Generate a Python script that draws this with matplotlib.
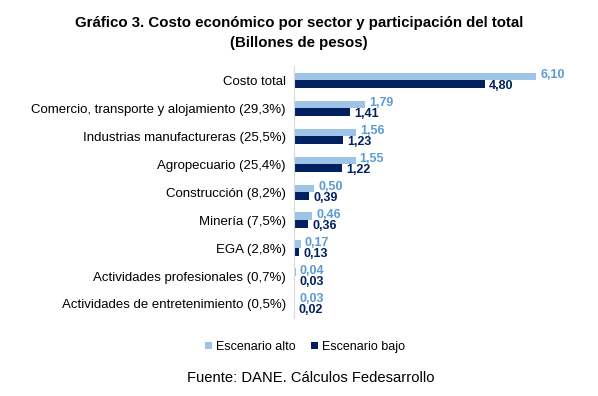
import numpy as np
from matplotlib import pyplot as plt

plt.rcParams["font.family"] = ["Liberation Sans", "DejaVu Sans"]

sectores = [
    "Costo total",
    "Comercio, transporte y alojamiento (29,3%)",
    "Industrias manufactureras (25,5%)",
    "Agropecuario (25,4%)",
    "Construcción (8,2%)",
    "Minería (7,5%)",
    "EGA (2,8%)",
    "Actividades profesionales (0,7%)",
    "Actividades de entretenimiento (0,5%)",
]
escenario_alto = [6.10, 1.79, 1.56, 1.55, 0.50, 0.46, 0.17, 0.04, 0.03]
escenario_bajo = [4.80, 1.41, 1.23, 1.22, 0.39, 0.36, 0.13, 0.03, 0.02]

color_alto = "#9DC3E6"
color_alto_txt = "#5B9BD5"
color_bajo = "#002060"


def fmt(v):
    return f"{v:.2f}".replace(".", ",")


fig = plt.figure(figsize=(5.98, 3.96), dpi=100)
ax = fig.add_axes([0.4916, 0.197, 0.465, 0.636])

y = np.arange(len(sectores))
h = 0.27
ax.barh(y - h / 2, escenario_alto, height=h, color=color_alto, label="Escenario alto")
ax.barh(y + h / 2, escenario_bajo, height=h, color=color_bajo, label="Escenario bajo")

for i in range(len(sectores)):
    ax.annotate(fmt(escenario_alto[i]), (escenario_alto[i], y[i] - h / 2),
                xytext=(3, 1), textcoords="offset points", va="center", ha="left",
                fontsize=9, fontweight="bold", color=color_alto_txt)
    ax.annotate(fmt(escenario_bajo[i]), (escenario_bajo[i], y[i] + h / 2),
                xytext=(3, -1.5), textcoords="offset points", va="center", ha="left",
                fontsize=9, fontweight="bold", color=color_bajo)

ax.set_xlim(0, 7)
ax.set_ylim(len(sectores) - 0.5, -0.5)
ax.set_yticks(y)
ax.set_yticklabels(sectores, fontsize=9.5)
ax.tick_params(axis="y", length=0, pad=6)
ax.set_xticks([])
for s in ["top", "right", "bottom"]:
    ax.spines[s].set_visible(False)
ax.spines["left"].set_color("#D9D9D9")

fig.text(0.5, 0.942, "Gráfico 3. Costo económico por sector y participación del total",
         ha="center", va="center", fontsize=10.8, fontweight="bold")
fig.text(0.5, 0.892, "(Billones de pesos)", ha="center", va="center",
         fontsize=10.8, fontweight="bold")

fig.legend(loc="center", bbox_to_anchor=(0.51, 0.124), ncol=2, frameon=False,
           fontsize=9, handlelength=0.6, handleheight=0.6, handletextpad=0.3,
           columnspacing=1.2)

fig.text(0.52, 0.046, "Fuente: DANE. Cálculos Fedesarrollo", ha="center",
         va="center", fontsize=10.6)

fig.savefig("out.png", dpi=100)
